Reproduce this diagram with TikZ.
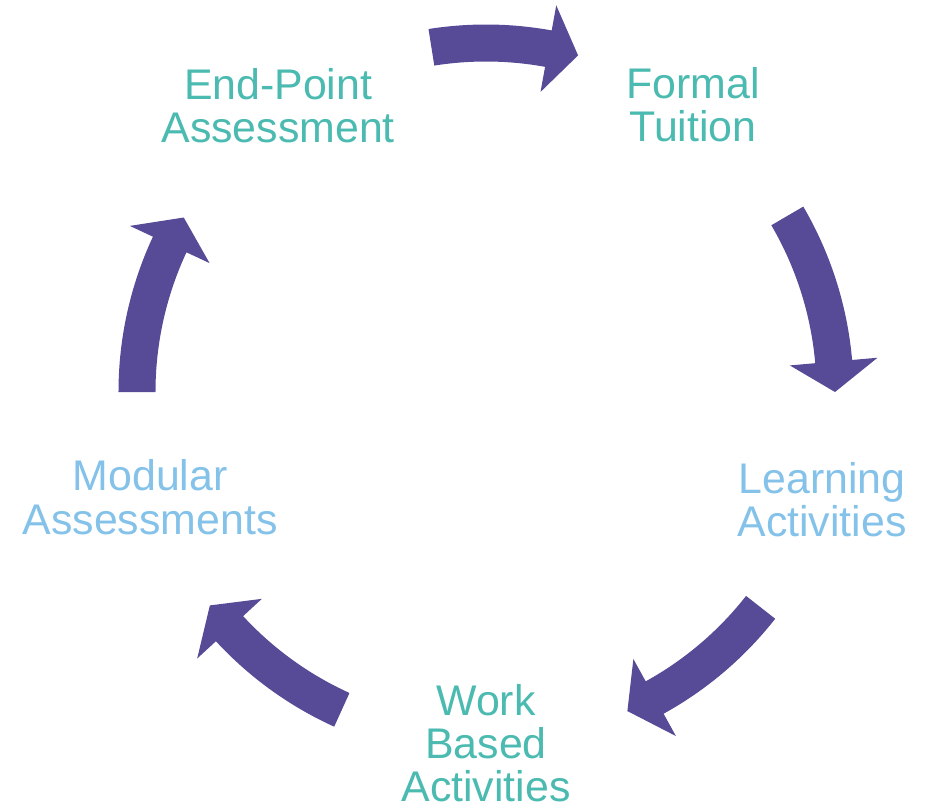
\documentclass[tikz,border=0pt]{standalone}
\usepackage{fontspec}
\setmainfont{Liberation Sans}
\usepackage{xcolor}
\usepackage{tikz}

\definecolor{arrowpurple}{RGB}{87,74,150}
\definecolor{stageteal}{RGB}{75,186,176}
\definecolor{stageblue}{RGB}{132,194,234}

\begin{document}
\begin{tikzpicture}[
    x=0.02cm, y=0.02cm,
    stage/.style={align=center, inner sep=0pt, font=\fontsize{24.4}{24.6}\selectfont},
    cyclearrow/.style={fill=arrowpurple}
]
\useasboundingbox (-486,-414) rectangle (447,392);

% Stages round the cycle
\node[stage, text=stageteal] (endpoint) at (126:353.6) {End-Point\\Assessment};
\node[stage, text=stageteal] (formal) at (54.2:354) {Formal\\Tuition};
\node[stage, text=stageblue] (learning) at (-17.8:353) {Learning\\Activities};
\node[stage, text=stageteal] (work) at (-90:351) {Work\\Based\\Activities};
\node[stage, text=stageblue] (modular) at (197.4:352) {Modular\\Assessments};

% Block arrows between the stages (tail angle / tip angle)
\foreach \tail/\tip in {99/74.7, 30.3/0, -38.1/-66.1, 245.6/217.7, 180/150} {
    \pgfmathsetmacro{\barb}{\tip+5}
    \fill[cyclearrow] (\tail:367.5) arc[start angle=\tail, end angle=\barb, radius=367.5]
        -- (\barb:393) -- (\tip:349) -- (\barb:305) -- (\barb:330.5)
        arc[start angle=\barb, end angle=\tail, radius=330.5] -- cycle;
}

\end{tikzpicture}
\end{document}
